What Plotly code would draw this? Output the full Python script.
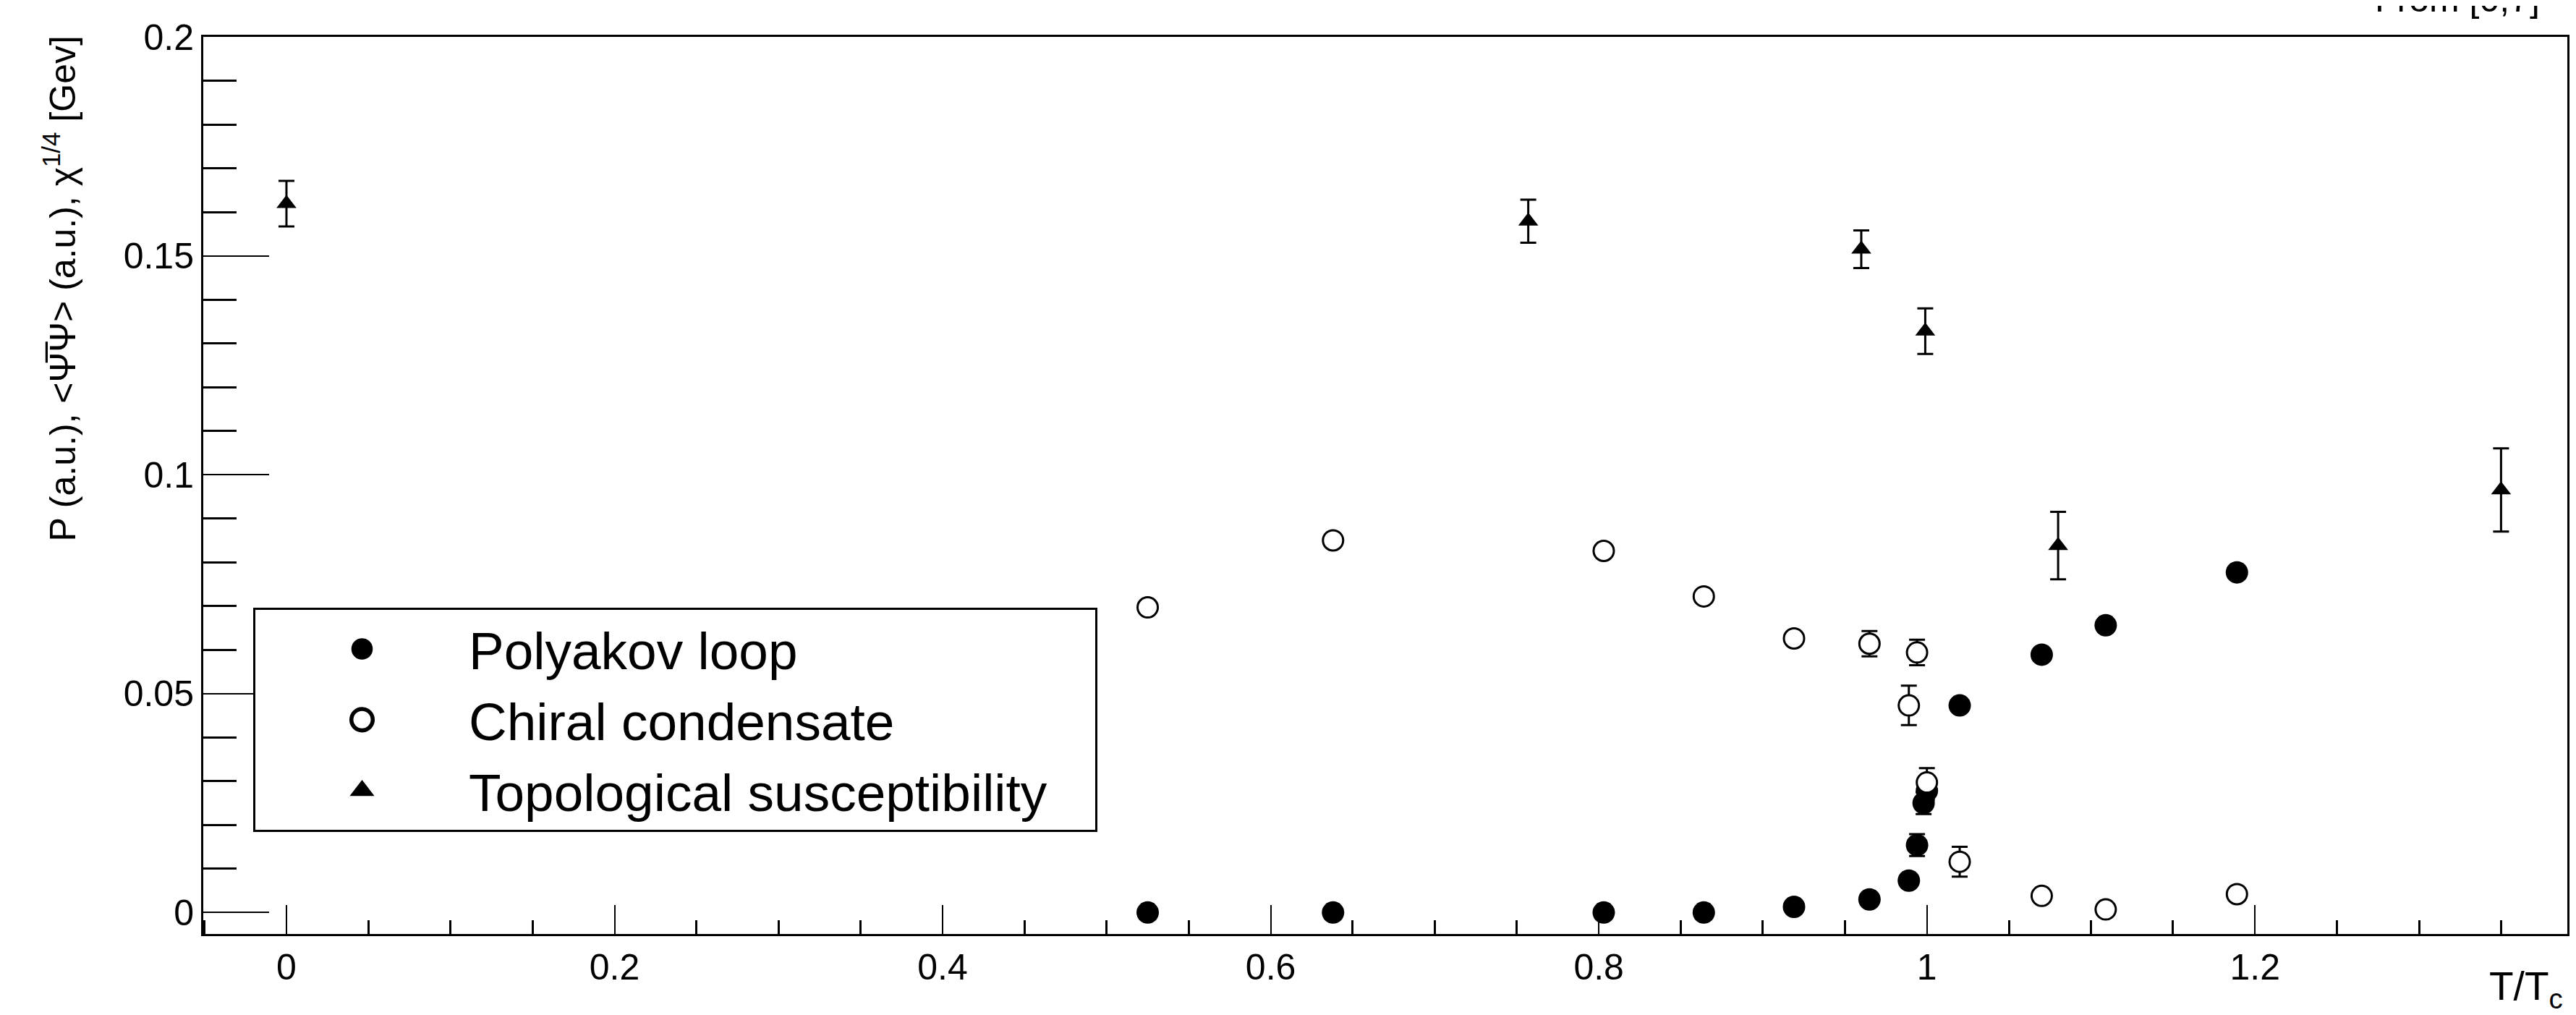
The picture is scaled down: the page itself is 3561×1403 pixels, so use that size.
import plotly.graph_objects as go

# ---- data ----
poly_x = [0.525, 0.638, 0.803, 0.864, 0.919, 0.965, 0.989, 0.994, 0.998, 1.000, 1.020, 1.070, 1.109, 1.189]
poly_y = [0.0000, 0.0000, 0.0000, 0.0000, 0.0013, 0.0030, 0.0073, 0.0154, 0.0250, 0.0278, 0.0473, 0.0589, 0.0656, 0.0777]
poly_err = [0, 0, 0, 0, 0, 0, 0, 0.0025, 0.0025, 0.0020, 0, 0, 0, 0]

chi_x = [0.525, 0.638, 0.803, 0.864, 0.919, 0.965, 0.989, 0.994, 1.000, 1.020, 1.070, 1.109, 1.189]
chi_y = [0.0697, 0.0850, 0.0826, 0.0722, 0.0626, 0.0614, 0.0473, 0.0594, 0.0297, 0.0116, 0.0038, 0.0007, 0.0042]
chi_err = [0, 0, 0, 0, 0, 0.0029, 0.0045, 0.0029, 0.0033, 0.0034, 0, 0, 0]

top_x = [0.000, 0.757, 0.960, 0.999, 1.080, 1.350]
top_y = [0.1619, 0.1579, 0.1515, 0.1328, 0.0838, 0.0965]
top_err = [0.0052, 0.0049, 0.0043, 0.0052, 0.0077, 0.0095]

names = ["Polyakov loop", "Chiral condensate", "Topological susceptibility"]
x_range = [-0.0507, 1.3904]
y_range = [-0.0049, 0.2]

W, H = 3561, 1403
ML, MR, MT, MB = 273, 20, 43, 120
PW, PH = W - ML - MR, H - MT - MB


def px(xp):
    return (xp - ML) / PW


def py(yp):
    return (H - MB - yp) / PH


err_style = dict(type="data", color="black", thickness=3, width=11, visible=True)

fig = go.Figure()
fig.add_trace(go.Scatter(
    x=poly_x, y=poly_y, mode="markers", name=names[0],
    marker=dict(symbol="circle", size=31, color="black", line=dict(width=0)),
    error_y=dict(array=poly_err, **err_style),
))
fig.add_trace(go.Scatter(
    x=chi_x, y=chi_y, mode="markers", name=names[1],
    marker=dict(symbol="circle", size=28, color="white", line=dict(width=3, color="black")),
    error_y=dict(array=chi_err, **err_style),
))
fig.add_trace(go.Scatter(
    x=top_x, y=top_y, mode="markers", name=names[2] + "\u00a0\u00a0\u00a0",
    marker=dict(symbol="triangle-up", size=24, color="black", line=dict(width=0)),
    error_y=dict(array=top_err, **err_style),
))

axis_common = dict(
    showline=True, linecolor="black", linewidth=3, mirror=True,
    ticks="inside", tickcolor="black", showgrid=False, zeroline=False,
    tickfont=dict(size=50, family="Liberation Sans", color="black"),
)

fig.update_layout(
    width=W, height=H,
    margin=dict(l=ML, r=MR, t=MT, b=MB),
    plot_bgcolor="white", paper_bgcolor="white",
    font=dict(family="Liberation Sans", color="black"),
    xaxis=dict(range=x_range, tick0=0, dtick=0.2, ticklen=40, tickwidth=2,
               minor=dict(dtick=0.05, tick0=0, ticklen=19, tickwidth=3, ticks="inside",
                          tickcolor="black", showgrid=False),
               **axis_common),
    yaxis=dict(range=y_range, tick0=0, dtick=0.05, ticklen=91, tickwidth=2,
               minor=dict(dtick=0.01, tick0=0, ticklen=46, tickwidth=3, ticks="inside",
                          tickcolor="black", showgrid=False),
               **axis_common),
    legend=dict(x=px(342), y=py(832), xanchor="left", yanchor="top",
                bgcolor="white", bordercolor="black", borderwidth=3,
                font=dict(size=73, family="Liberation Sans", color="black"),
                itemwidth=285, tracegroupgap=0),
    showlegend=True,
)

fig.add_annotation(
    text="P (a.u.), &lt;Ψ&#773;Ψ&gt; (a.u.), χ<sup>1/4</sup> [Gev]",
    xref="paper", yref="paper", x=px(74), y=py(40),
    xanchor="center", yanchor="top", textangle=-90, showarrow=False,
    font=dict(size=50, family="Liberation Sans", color="black"),
)
fig.add_annotation(
    text="T/T<sub>c</sub>",
    xref="paper", yref="paper", x=px(3537), y=py(1322),
    xanchor="right", yanchor="top", showarrow=False,
    font=dict(size=55, family="Liberation Sans", color="black"),
)
fig.add_annotation(
    text="From [0,7]",
    xref="paper", yref="paper", x=px(3505), y=py(21),
    xanchor="right", yanchor="bottom", showarrow=False,
    font=dict(size=50, family="Liberation Sans", color="black"),
)

# Plotly caps legend symbols at 16 px; enlarge them to match the data markers.
post_js = """
var gd = document.getElementsByClassName('plotly-graph-div')[0];
function growLegend(){
  var pts = gd.querySelectorAll('.legend .legendpoints path.scatterpts');
  pts.forEach(function(p){
    var t = p.getAttribute('transform') || '';
    if (t.indexOf('scale') < 0) { p.setAttribute('transform', t + ' scale(1.85)'); }
  });
}
growLegend();
gd.on('plotly_afterplot', growLegend);
"""

fig.write_html("out.html", post_script=post_js)
